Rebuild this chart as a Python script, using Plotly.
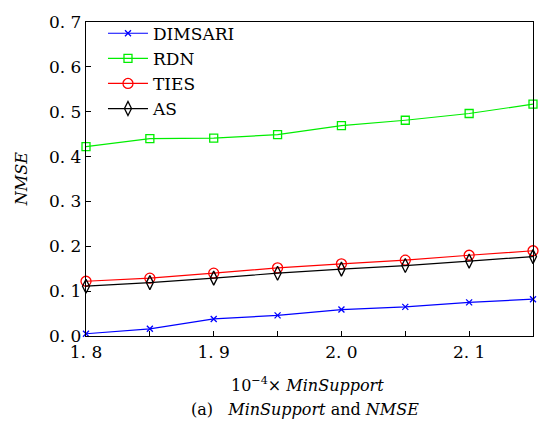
import plotly.graph_objects as go

x_vals = [1.80, 1.85, 1.90, 1.95, 2.00, 2.05, 2.10, 2.15]
dimsari = [0.005, 0.016, 0.038, 0.046, 0.059, 0.065, 0.075, 0.082]
rdn = [0.422, 0.440, 0.441, 0.449, 0.469, 0.481, 0.496, 0.517]
ties = [0.122, 0.129, 0.140, 0.152, 0.161, 0.169, 0.180, 0.190]
as_ = [0.111, 0.119, 0.129, 0.140, 0.149, 0.157, 0.167, 0.177]

x_tickvals = [1.8, 1.9, 2.0, 2.1]
x_ticktext = ["1. 8", "1. 9", "2. 0", "2. 1"]
x_minorvals = [1.85, 1.95, 2.05, 2.15]
y_tickvals = [0, 0.1, 0.2, 0.3, 0.4, 0.5, 0.6, 0.7]
y_ticktext = ["0. 0", "0. 1", "0. 2", "0. 3", "0. 4", "0. 5", "0. 6", "0. 7"]

FONT = "DejaVu Serif"

fig = go.Figure()
series = [
    ("DIMSARI", dimsari, "#0000FF", "x-thin-open", 6),
    ("RDN", rdn, "#00EE00", "square-open", 8),
    ("TIES", ties, "#FF0000", "circle-open", 10),
    ("AS", as_, "#000000", "diamond-tall-open", 10),
]
for name, ys, col, sym, sz in series:
    fig.add_trace(go.Scatter(
        x=x_vals, y=ys, name=name, mode="lines+markers",
        line=dict(color=col, width=1.2),
        marker=dict(symbol=sym, size=sz, color=col, line=dict(color=col, width=1.3)),
        cliponaxis=False,
    ))

fig.update_layout(
    width=547, height=426,
    margin=dict(l=86, r=14, t=13, b=90),
    paper_bgcolor="white", plot_bgcolor="white",
    font=dict(family=FONT, size=16, color="black"),
    showlegend=True,
    legend=dict(x=0.038, y=1.02, xanchor="left", yanchor="top",
                bgcolor="rgba(0,0,0,0)", font=dict(size=17, family=FONT),
                tracegroupgap=0, itemwidth=40),
    xaxis=dict(range=[1.8, 2.15], tickvals=x_tickvals, ticktext=x_ticktext,
               ticks="inside", ticklen=5, tickcolor="black",
               minor=dict(tickvals=x_minorvals, ticks="inside", ticklen=5, tickcolor="black"),
               showline=True, linecolor="black", linewidth=1.3, mirror=True,
               showgrid=False, zeroline=False,
               tickfont=dict(size=17, family=FONT)),
    yaxis=dict(range=[0, 0.7], tickvals=y_tickvals, ticktext=y_ticktext,
               ticks="inside", ticklen=5, tickcolor="black",
               showline=True, linecolor="black", linewidth=1.3, mirror=True,
               showgrid=False, zeroline=False,
               tickfont=dict(size=17, family=FONT)),
    annotations=[
        dict(text="<i>NMSE</i>", xref="paper", yref="paper", x=-0.145, y=0.5,
             textangle=-90, showarrow=False, font=dict(size=16, family=FONT),
             xanchor="center", yanchor="middle"),
        dict(text="10<sup>−4</sup>× <i>MinSupport</i>", xref="paper", yref="paper",
             x=0.495, y=-0.155, showarrow=False, font=dict(size=16, family=FONT),
             xanchor="center", yanchor="middle"),
        dict(text="(a)   <i>MinSupport</i> and <i>NMSE</i>", xref="paper", yref="paper",
             x=0.49, y=-0.235, showarrow=False, font=dict(size=16, family=FONT),
             xanchor="center", yanchor="middle"),
    ],
)

fig.write_html("out.html")
